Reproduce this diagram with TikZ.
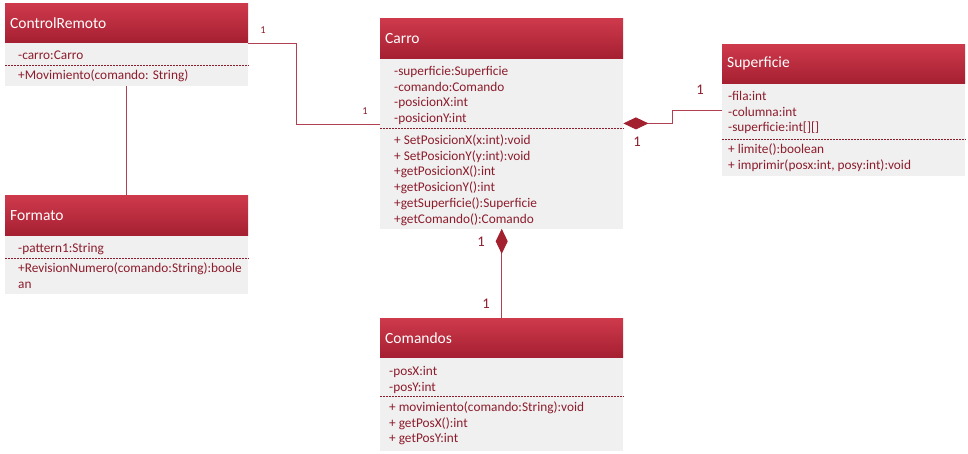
\documentclass[tikz,border=0pt]{standalone}
\usepackage{fontspec}
\setmainfont{Carlito}
\usetikzlibrary{arrows.meta,positioning}

\definecolor{hdrtop}{RGB}{206,58,76}
\definecolor{hdrbot}{RGB}{165,32,50}
\definecolor{cuerpogris}{RGB}{240,240,240}
\definecolor{letra}{RGB}{140,28,44}
\definecolor{linea}{RGB}{176,64,82}
\definecolor{rombo}{RGB}{163,32,47}

\begin{document}
\begin{tikzpicture}[x=1pt,y=-1pt]
                \tikzset{clase/.style={anchor=north west, minimum width=243pt, text width=233pt, inner xsep=5pt, align=left, top color=hdrtop, bottom color=hdrbot, text=white, font=\fontsize{15.5}{18}\selectfont}}
                \tikzset{cuerpo/.style={fill=cuerpogris, minimum width=243pt, inner sep=0pt}}
                \tikzset{miembro/.style={anchor=north west, align=left, inner sep=0pt, text=letra, font=\fontsize{13.3}{15.7}\selectfont}}
                \tikzset{sep/.style={draw=letra, dash pattern=on 2pt off 1pt, line width=0.6pt}}
                \tikzset{asoc/.style={draw=linea, line width=0.8pt}}
                \tikzset{comp/.style={asoc, -{Diamond[length=25pt,width=12pt,fill=rombo,color=rombo]}}}
                \tikzset{mult/.style={text=letra, inner sep=0pt, font=\fontsize{14.7}{17}\selectfont}}
                \tikzset{multS/.style={mult, font=\fontsize{10.5}{12}\selectfont}}
                \useasboundingbox (0,0) rectangle (968,453);
                % ControlRemoto
                \node[clase, minimum height=39pt] (crH) at (5,3) {ControlRemoto};
                \node[cuerpo, minimum height=43pt, below=0pt of crH] (crB) {};
                \node[miembro] (crAt) at ([xshift=13pt,yshift=-6pt]crB.north west) {\strut-carro:Carro};
                \draw[sep] ([yshift=-23pt]crB.north west) -- ([yshift=-23pt]crB.north east);
                \node[miembro] (crMe) at ([xshift=13pt,yshift=-26pt]crB.north west) {\strut+Movimiento(comando: String)};
                % Formato
                \node[clase, minimum height=40pt] (fmH) at (5,195) {Formato};
                \node[cuerpo, minimum height=58pt, below=0pt of fmH] (fmB) {};
                \node[miembro] (fmAt) at ([xshift=13pt,yshift=-6pt]fmB.north west) {\strut-pattern1:String};
                \draw[sep] ([yshift=-23pt]fmB.north west) -- ([yshift=-23pt]fmB.north east);
                \node[miembro] (fmMe) at ([xshift=13pt,yshift=-26pt]fmB.north west) {\strut+RevisionNumero(comando:String):boole\\an};
                % Carro
                \node[clase, minimum height=40pt] (carroH) at (380,18) {Carro};
                \node[cuerpo, minimum height=170pt, below=0pt of carroH] (carroB) {};
                \node[miembro] (carroAt) at ([xshift=14pt,yshift=-6pt]carroB.north west) {\strut-superficie:Superficie\\-comando:Comando\\-posicionX:int\\-posicionY:int};
                \draw[sep] ([yshift=-70pt]carroB.north west) -- ([yshift=-70pt]carroB.north east);
                \node[miembro] (carroMe) at ([xshift=14pt,yshift=-75pt]carroB.north west) {\strut+ SetPosicionX(x:int):void\\+ SetPosicionY(y:int):void\\+getPosicionX():int\\+getPosicionY():int\\+getSuperficie():Superficie\\+getComando():Comando};
                % Superficie
                \node[clase, minimum height=39pt] (supH) at (722,44) {Superficie};
                \node[cuerpo, minimum height=92pt, below=0pt of supH] (supB) {};
                \node[miembro] (supAt) at ([xshift=6pt,yshift=-6pt]supB.north west) {\strut-fila:int\\-columna:int\\-superficie:int[][]};
                \draw[sep] ([yshift=-56pt]supB.north west) -- ([yshift=-56pt]supB.north east);
                \node[miembro] (supMe) at ([xshift=6pt,yshift=-59pt]supB.north west) {\strut+ limite():boolean\\+ imprimir(posx:int, posy:int):void};
                % Comandos
                \node[clase, minimum height=39pt] (comH) at (380,318) {Comandos};
                \node[cuerpo, minimum height=93pt, below=0pt of comH] (comB) {};
                \node[miembro] (comAt) at ([xshift=9pt,yshift=-7pt]comB.north west) {\strut-posX:int\\-posY:int};
                \draw[sep] ([yshift=-39pt]comB.north west) -- ([yshift=-39pt]comB.north east);
                \node[miembro] (comMe) at ([xshift=9pt,yshift=-43pt]comB.north west) {\strut+ movimiento(comando:String):void\\+ getPosX():int\\+ getPosY:int};
                % relaciones
                \coordinate (carroIzq) at ([yshift=-66pt]carroB.north west);
                \coordinate (carroDer) at ([yshift=-65pt]carroB.north east);
                \coordinate (supIzq) at ([yshift=-27pt]supB.north west);
                \draw[asoc] ([yshift=-1pt]crB.north east) -- ++(48,0) |- (carroIzq);
                \draw[asoc] (crB.south) -- (fmH.north);
                \draw[comp] (supIzq) -- ++(-50,0) |- (carroDer);
                \draw[comp] (comH.north) -- (carroB.south);
                \node[multS] (m1) at (263,30) {1};
                \node[multS] (m2) at (365,111) {1};
                \node[mult] (m3) at (700,90) {1};
                \node[mult] (m4) at (637,142) {1};
                \node[mult] (m5) at (481,242) {1};
                \node[mult] (m6) at (486,304) {1};
            \end{tikzpicture}
\end{document}
